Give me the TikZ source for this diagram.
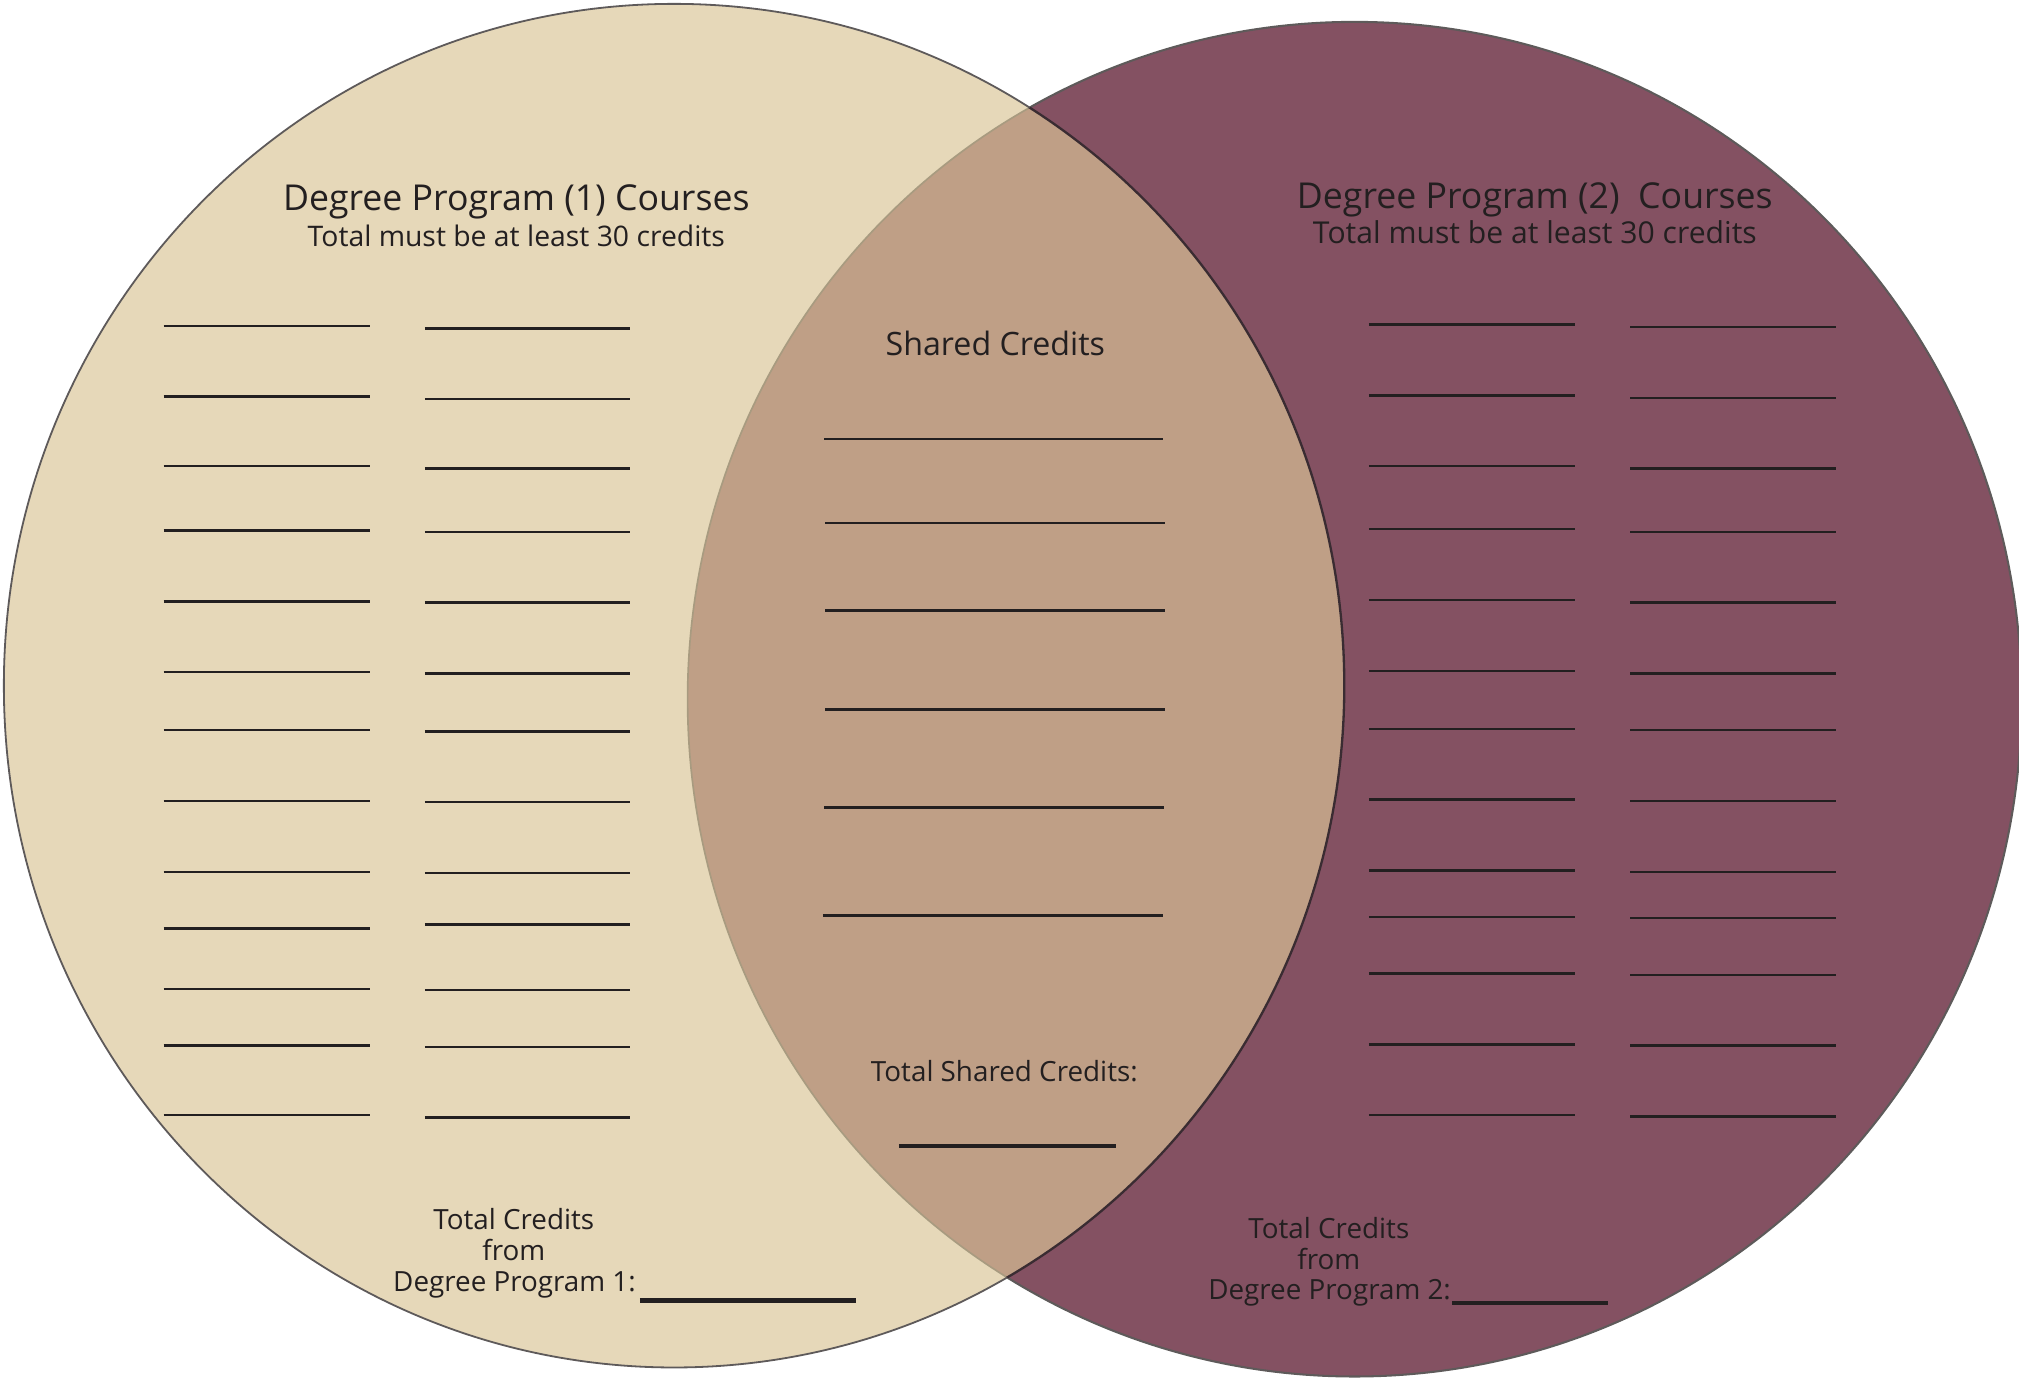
\documentclass[tikz,border=0pt]{standalone}
\usepackage{fontspec}
\setmainfont{Open Sans}
\definecolor{beige}{HTML}{E6D8B9}
\definecolor{maroon}{HTML}{845162}
\definecolor{overlap}{HTML}{BF9F86}
\definecolor{ink}{HTML}{231F20}
\definecolor{rimgray}{HTML}{5E5A5A}
\definecolor{rimdark}{HTML}{3A2C32}
\definecolor{rimolive}{HTML}{A89B80}
\begin{document}
\begin{tikzpicture}[x=1pt,y=-1pt,
  blank/.style={draw=ink,line width=1.9pt},
  bigblank/.style={draw=ink,line width=3.4pt},
  title/.style={text=ink,font=\fontsize{27.7}{30}\selectfont,inner sep=0pt,anchor=center},
  sub/.style={text=ink,font=\fontsize{22}{25}\selectfont,inner sep=0pt,anchor=center},
  lbl/.style={text=ink,font=\fontsize{21.6}{24}\selectfont,inner sep=0pt,align=center}]
\useasboundingbox (0,0) rectangle (1568,1071);
\fill[white] (0,0) rectangle (1568,1071);
% discs
\fill[maroon] (1052,543) ellipse [x radius=518, y radius=526];
\fill[beige] (523.5,532.5) ellipse [x radius=520.5, y radius=529.5];
\begin{scope}
  \clip (1052,543) ellipse [x radius=518, y radius=526];
  \fill[overlap] (523.5,532.5) ellipse [x radius=520.5, y radius=529.5];
\end{scope}
% rims
\begin{scope}
  \clip (523.5,532.5) ellipse [x radius=520.5, y radius=529.5];
  \draw[rimolive,line width=1.3pt] (1052,543) ellipse [x radius=518, y radius=526];
\end{scope}
\begin{scope}
  \clip (0,0) rectangle (1568,1071) (523.5,532.5) ellipse [x radius=520.5, y radius=529.5];
  \draw[rimgray,line width=1.6pt,even odd rule] (1052,543) ellipse [x radius=518, y radius=526];
\end{scope}
\begin{scope}[even odd rule]
  \clip (0,0) rectangle (1568,1071) (1052,543) ellipse [x radius=518, y radius=526];
  \draw[rimgray,line width=1.4pt] (523.5,532.5) ellipse [x radius=520.5, y radius=529.5];
\end{scope}
\begin{scope}
  \clip (1052,543) ellipse [x radius=518, y radius=526];
  \draw[rimdark,line width=1.8pt] (523.5,532.5) ellipse [x radius=520.5, y radius=529.5];
\end{scope}
% headings
\node[title] (t1) at (401,157) {Degree Program (1) Courses};
\node[sub] (s1) at (401,183) {Total must be at least 30 credits};
\node[title] (t2) at (1192,155) {Degree Program (2)\ \ Courses};
\node[sub,font=\fontsize{23.4}{26}\selectfont] (s2) at (1192,180) {Total must be at least 30 credits};
\node[title,font=\fontsize{25}{28}\selectfont] (sc) at (773,267) {Shared Credits};
% left columns
\foreach \y in {253,308,362,412,467,522,567,622,677,721,768,812,866}
  \draw[blank] (127,\y) -- (287,\y);
\foreach \y in {255,310,364,413,468,523,568,623,678,718,769,813,868}
  \draw[blank] (330,\y) -- (489,\y);
% right columns
\foreach \y in {252,307,362,411,466,521,566,621,676,712,756,811,866}
  \draw[blank] (1063,\y) -- (1223,\y);
\foreach \y in {254,309,364,413,468,523,567,622,677,713,757,812,867}
  \draw[blank] (1266,\y) -- (1426,\y);
% shared
\foreach \y/\a/\b in {341/640/903,406/641/905,474/641/905,551/641/905,627/640/904,711/639/903}
  \draw[blank] (\a,\y) -- (\b,\y);
% totals
\node[lbl] (ts) at (780,832) {Total Shared Credits:};
\draw[bigblank] (698,890) -- (867,890);
\node[lbl,anchor=base] (tc1a) at (399,955) {Total Credits};
\node[lbl,anchor=base] (tc1b) at (399,979) {from};
\node[lbl,anchor=base east] (tc1c) at (494,1003) {Degree Program 1:};
\draw[bigblank] (497,1010) -- (665,1010);
\node[lbl,anchor=base] (tc2a) at (1032,962) {Total Credits};
\node[lbl,anchor=base] (tc2b) at (1032,986) {from};
\node[lbl,anchor=base east] (tc2c) at (1127,1009) {Degree Program 2:};
\draw[bigblank] (1128,1012) -- (1249,1012);
\end{tikzpicture}
\end{document}
